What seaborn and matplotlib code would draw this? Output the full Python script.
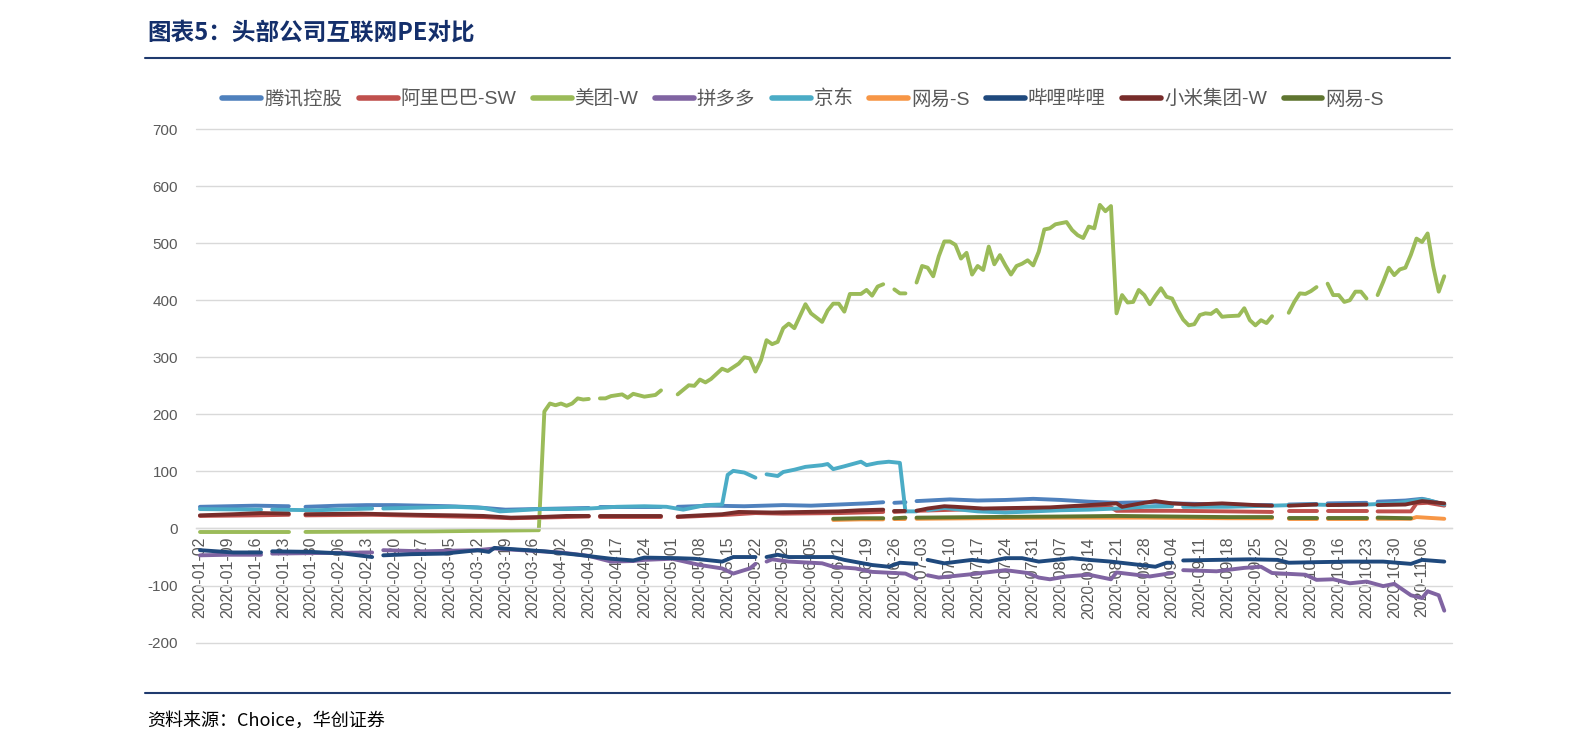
import pandas as pd
import matplotlib.pyplot as plt
from matplotlib.lines import Line2D
import seaborn as sns

# category axis: trading days (04-10 is not in the source table)
trade_days = pd.bdate_range('2020-01-02', '2020-11-12').drop(pd.Timestamp('2020-04-10'))

# None = no quote that day (market holiday) -> gap in the line
tencent_dates = ['01-02', '01-09', '01-16', '01-24', '01-27', '01-29', '02-06', '02-13', '02-20', '02-27',
                 '03-05', '03-12', '03-19', '03-26', '04-02', '04-09', '04-13', '04-14', '04-22', '04-29',
                 '04-30', '05-04', '05-12', '05-20', '05-29', '06-05', '06-12', '06-19', '06-24', '06-25',
                 '06-26', '06-30', '07-01', '07-02', '07-10', '07-17', '07-24', '07-31', '08-07', '08-14',
                 '08-21', '08-28', '09-04', '09-11', '09-18', '09-25', '09-30', '10-01', '10-05', '10-12',
                 '10-13', '10-14', '10-23', '10-26', '10-27', '11-03', '11-06', '11-09', '11-12']
tencent_pe = [38, 39, 40, 39, None, 38, 40, 41, 41, 40,
              39, 37, 33, 34, 35, 36, None, 37, 37, 37,
              None, 38, 40, 39, 41, 40, 42, 44, 46, None,
              45, 46, None, 48, 51, 49, 50, 52, 50, 47,
              45, 46, 44, 43, 42, 41, 41, None, 42, 43,
              None, 44, 45, None, 47, 49, 52, 50, 42]

alibaba_dates = ['01-02', '01-16', '01-24', '01-27', '01-29', '02-14', '02-28', '03-13', '03-20', '03-27',
                 '04-09', '04-13', '04-14', '04-29', '04-30', '05-04', '05-15', '05-22', '05-29', '06-12',
                 '06-24', '06-25', '06-26', '06-30', '07-01', '07-02', '07-17', '07-31', '08-14', '08-20',
                 '08-21', '09-04', '09-18', '09-30', '10-01', '10-05', '10-12', '10-13', '10-14', '10-23',
                 '10-26', '10-27', '11-04', '11-05', '11-09', '11-12']
alibaba_pe = [22, 23, 24, None, 23, 24, 22, 20, 18, 19,
              21, None, 21, 21, None, 20, 24, 27, 26, 27,
              29, None, 29, 30, None, 31, 34, 35, 36, 37,
              31, 31, 30, 29, None, 30, 30, None, 30, 30,
              None, 30, 30, 44, 45, 40]

meituan_dates = ['01-02', '01-24', '01-27', '01-29', '03-02', '03-27', '03-30', '03-31', '04-01', '04-02',
                 '04-03', '04-06', '04-07', '04-08', '04-09', '04-13', '04-14', '04-15', '04-16', '04-20',
                 '04-21', '04-22', '04-24', '04-28', '04-29', '04-30', '05-04', '05-06', '05-07', '05-08',
                 '05-11', '05-12', '05-14', '05-15', '05-19', '05-20', '05-21', '05-22', '05-25', '05-26',
                 '05-27', '05-28', '05-29', '06-01', '06-02', '06-04', '06-05', '06-09', '06-10', '06-11',
                 '06-12', '06-15', '06-16', '06-17', '06-18', '06-19', '06-22', '06-23', '06-24', '06-25',
                 '06-26', '06-29', '06-30', '07-01', '07-02', '07-03', '07-06', '07-07', '07-08', '07-09',
                 '07-10', '07-13', '07-14', '07-15', '07-16', '07-17', '07-20', '07-21', '07-22', '07-23',
                 '07-24', '07-27', '07-28', '07-29', '07-30', '07-31', '08-03', '08-04', '08-05', '08-06',
                 '08-10', '08-11', '08-12', '08-13', '08-14', '08-17', '08-18', '08-19', '08-20', '08-21',
                 '08-24', '08-25', '08-26', '08-27', '08-28', '08-31', '09-01', '09-02', '09-03', '09-04',
                 '09-07', '09-08', '09-09', '09-10', '09-11', '09-14', '09-15', '09-16', '09-17', '09-18',
                 '09-22', '09-23', '09-24', '09-25', '09-28', '09-29', '09-30', '10-01', '10-05', '10-06',
                 '10-07', '10-08', '10-09', '10-12', '10-13', '10-14', '10-15', '10-16', '10-19', '10-20',
                 '10-21', '10-22', '10-23', '10-26', '10-27', '10-28', '10-29', '10-30', '11-02', '11-03',
                 '11-04', '11-05', '11-06', '11-09', '11-10', '11-11', '11-12']
meituan_pe = [-6, -6, None, -6, -5, -3, 205, 219, 216, 219,
              215, 219, 228, 226, 227, None, 228, 228, 232, 235,
              229, 236, 231, 234, 242, None, 235, 251, 250, 261,
              256, 262, 280, 276, 289, 300, 298, 275, 295, 330,
              323, 327, 351, 359, 351, 393, 377, 362, 382, 394,
              394, 380, 411, 411, 411, 418, 408, 424, 428, None,
              419, 412, 412, None, 431, 460, 457, 442, 477, 503,
              503, 497, 473, 483, 445, 460, 453, 494, 463, 479,
              461, 445, 460, 464, 470, 461, 485, 524, 526, 533,
              537, 523, 514, 509, 529, 526, 567, 556, 565, 377,
              409, 396, 397, 418, 409, 393, 408, 421, 406, 403,
              383, 366, 356, 358, 374, 377, 376, 383, 371, 372,
              373, 386, 365, 356, 365, 360, 372, None, 378, 397,
              412, 411, 416, 423, None, 429, 409, 409, 397, 400,
              415, 415, 403, None, 409, 432, 457, 444, 454, 457,
              480, 508, 502, 517, 460, 415, 442]

pdd_dates = ['01-02', '01-09', '01-17', '01-20', '01-21', '01-31', '02-14', '02-17', '02-18', '02-27',
             '03-12', '03-17', '03-20', '04-02', '04-09', '04-16', '04-22', '04-24', '05-01', '05-08',
             '05-14', '05-18', '05-21', '05-22', '05-25', '05-26', '05-27', '06-01', '06-09', '06-11',
             '06-17', '06-22', '06-30', '07-02', '07-03', '07-06', '07-08', '07-16', '07-24', '07-30',
             '08-03', '08-05', '08-10', '08-14', '08-20', '08-21', '08-31', '09-04', '09-07', '09-08',
             '09-16', '09-23', '09-28', '09-30', '10-08', '10-12', '10-15', '10-20', '10-23', '10-28',
             '10-30', '11-04', '11-06', '11-09', '11-11', '11-12']
pdd_pe = [-47, -46, -46, None, -44, -43, -42, None, -38, -40,
          -38, -35, -37, -42, -48, -58, -57, -55, -53, -64,
          -70, -79, -70, -62, None, -58, -54, -58, -61, -67,
          -70, -76, -79, -88, None, -82, -86, -80, -73, -78,
          -86, -89, -84, -81, -89, -77, -84, -78, None, -73,
          -75, -69, -67, -78, -81, -90, -89, -96, -93, -101,
          -97, -117, -122, -110, -117, -144]

jd_dates = ['01-02', '01-17', '01-20', '01-21', '01-31', '02-14', '02-17', '02-18', '02-28', '03-06',
            '03-13', '03-18', '03-20', '03-27', '04-03', '04-09', '04-17', '04-24', '04-30', '05-05',
            '05-07', '05-11', '05-14', '05-15', '05-18', '05-20', '05-22', '05-25', '05-26', '05-28',
            '05-29', '06-02', '06-04', '06-05', '06-09', '06-10', '06-11', '06-15', '06-18', '06-19',
            '06-23', '06-25', '06-29', '06-30', '07-02', '07-03', '07-06', '07-09', '07-17', '07-24',
            '07-31', '08-07', '08-14', '08-21', '08-28', '09-04', '09-07', '09-08', '09-18', '09-30',
            '10-09', '10-16', '10-23', '10-30', '11-04', '11-06', '11-09', '11-12']
jd_pe = [34, 33, None, 33, 32, 35, None, 35, 37, 38,
         36, 30, 31, 34, 34, 35, 38, 39, 38, 33,
         37, 41, 42, 94, 101, 98, 89, None, 95, 92,
         99, 103, 108, 109, 111, 113, 104, 109, 117, 111,
         115, 117, 115, 30, 30, None, 32, 36, 30, 28,
         30, 32, 33, 35, 38, 39, None, 38, 38, 40,
         42, 41, 42, 44, 48, 51, 50, 42]

netease_dates = ['06-11', '06-18', '06-24', '06-25', '06-26', '06-30', '07-01', '07-02', '07-17', '08-07',
                 '08-28', '09-18', '09-30', '10-01', '10-05', '10-12', '10-13', '10-14', '10-23', '10-26',
                 '10-27', '11-04', '11-05', '11-12']
netease_pe = [15, 16, 16, None, 16, 16, None, 17, 18, 19,
              19, 18, 18, None, 17, 17, None, 17, 17, None,
              17, 17, 20, 17]

bili_dates = ['01-02', '01-10', '01-17', '01-20', '01-21', '01-30', '02-07', '02-14', '02-17', '02-18',
              '02-25', '03-04', '03-12', '03-16', '03-17', '03-20', '03-30', '04-07', '04-16', '04-22',
              '04-24', '05-04', '05-07', '05-14', '05-18', '05-22', '05-25', '05-26', '05-28', '06-01',
              '06-11', '06-15', '06-22', '06-25', '06-29', '07-02', '07-03', '07-06', '07-09', '07-16',
              '07-21', '07-24', '07-29', '08-03', '08-11', '08-14', '08-20', '09-01', '09-03', '09-04',
              '09-07', '09-08', '09-16', '09-24', '10-01', '10-05', '10-12', '10-20', '10-28', '11-04',
              '11-06', '11-12']
bili_pe = [-38, -42, -42, None, -40, -41, -44, -50, None, -47,
           -45, -44, -38, -41, -34, -36, -40, -46, -53, -56,
           -51, -52, -53, -58, -50, -50, None, -50, -46, -50,
           -50, -55, -64, -67, -60, -62, None, -55, -61, -55,
           -58, -52, -52, -58, -52, -55, -58, -67, -60, -60,
           None, -56, -55, -54, -55, -60, -59, -58, -58, -62,
           -55, -58]

xiaomi_dates = ['01-02', '01-10', '01-17', '01-24', '01-27', '01-29', '02-12', '02-26', '03-06', '03-13',
                '03-20', '03-27', '04-03', '04-09', '04-13', '04-14', '04-29', '04-30', '05-04', '05-08',
                '05-14', '05-19', '05-27', '06-04', '06-12', '06-18', '06-24', '06-25', '06-26', '06-30',
                '07-01', '07-02', '07-06', '07-09', '07-13', '07-20', '07-28', '08-05', '08-14', '08-21',
                '08-24', '08-28', '09-01', '09-04', '09-10', '09-17', '09-25', '09-30', '10-01', '10-05',
                '10-12', '10-13', '10-14', '10-23', '10-26', '10-27', '11-03', '11-06', '11-09', '11-12']
xiaomi_pe = [23, 25, 27, 26, None, 25, 26, 24, 23, 22,
             19, 20, 22, 22, None, 22, 22, None, 21, 23,
             25, 29, 28, 29, 30, 32, 33, None, 30, 30,
             None, 31, 35, 39, 38, 35, 36, 37, 41, 44,
             38, 45, 48, 44, 42, 44, 41, 40, None, 40,
             42, None, 41, 42, None, 41, 42, 48, 47, 44]

netease2_dates = ['06-11', '06-18', '06-24', '06-25', '06-26', '06-30', '07-01', '07-02', '07-17', '08-07',
                  '08-21', '09-04', '09-18', '09-30', '10-01', '10-05', '10-12', '10-13', '10-14', '10-23',
                  '10-26', '10-27', '11-04']
netease2_pe = [17, 18, 18, None, 18, 19, None, 19, 20, 21,
               22, 21, 20, 20, None, 19, 19, None, 19, 19,
               None, 19, 18]

series = [
    ('tencent', '腾讯控股', '#4F81BD', tencent_dates, tencent_pe),
    ('alibaba', '阿里巴巴-SW', '#C0504D', alibaba_dates, alibaba_pe),
    ('meituan', '美团-W', '#9BBB59', meituan_dates, meituan_pe),
    ('pdd', '拼多多', '#8064A2', pdd_dates, pdd_pe),
    ('jd', '京东', '#4BACC6', jd_dates, jd_pe),
    ('netease', '网易-S', '#F79646', netease_dates, netease_pe),
    ('bili', '哔哩哔哩', '#1F497D', bili_dates, bili_pe),
    ('xiaomi', '小米集团-W', '#772C2A', xiaomi_dates, xiaomi_pe),
    ('netease2', '网易-S', '#5F7530', netease2_dates, netease2_pe),
]

rows = []
for key, label, color, dates, values in series:
    idx = trade_days.get_indexer(pd.to_datetime(['2020-' + d for d in dates]), method='nearest')
    seg = 0
    for i, v in zip(idx, values):
        if v is None:
            seg += 1
            continue
        rows.append({'pos': i, 'pe': v, 'name': key, 'seg': f'{key}_{seg}'})
df = pd.DataFrame(rows)

sns.set_theme(style='white')
plt.rcParams['font.family'] = ['Liberation Sans', 'Noto Sans CJK SC']
plt.rcParams['axes.unicode_minus'] = False

fig = plt.figure(figsize=(15.84, 7.51), dpi=100)
ax = fig.add_axes([0.1237, 0.1443, 0.793, 0.6839])

sns.lineplot(data=df, x='pos', y='pe', hue='name', units='seg', estimator=None,
             hue_order=[s[0] for s in series], palette={s[0]: s[2] for s in series},
             linewidth=2.8, legend=False, ax=ax,
             solid_capstyle='round', solid_joinstyle='round')

grey = '#D9D9D9'
ax.set_xlim(-0.72, 225.4)
ax.set_ylim(-200, 700)
ax.set_yticks(range(-200, 701, 100))
ax.set_xticks(range(0, len(trade_days), 5))
ax.set_xticklabels([trade_days[i].strftime('%Y-%m-%d') for i in range(0, len(trade_days), 5)])
ax.set_xticks(range(len(trade_days)), minor=True)
ax.tick_params(axis='x', which='both', direction='out', length=4, width=1, color=grey,
               labelsize=11.5, labelcolor='#595959', labelrotation=90, pad=2)
ax.tick_params(axis='y', length=0, pad=13, labelsize=11, labelcolor='#595959')
ax.yaxis.grid(True, color=grey, lw=1)
ax.xaxis.grid(False)
ax.set_axisbelow(True)
for gl in ax.get_ygridlines():
    gl.set_clip_on(False)
for side in ['left', 'right', 'top']:
    ax.spines[side].set_visible(False)
ax.spines['bottom'].set_position(('data', 0))
ax.spines['bottom'].set_color(grey)
ax.spines['bottom'].set_linewidth(1)
ax.set_xlabel('')
ax.set_ylabel('')

handles = [Line2D([], [], color=s[2], lw=4, solid_capstyle='round') for s in series]
fig.legend(handles, [s[1] for s in series], loc='center', bbox_to_anchor=(0.507, 0.868),
           ncol=9, frameon=False, fontsize=14, handlelength=2.0, handletextpad=0.15,
           columnspacing=0.85, labelcolor='#595959')

navy = '#1F3A6E'
fig.text(147 / 1584, 0.956, '图表5：头部公司互联网PE对比', fontsize=17, fontweight='bold',
         color='#142F6B', ha='left', va='center', family=['Noto Sans CJK SC'])
fig.add_artist(Line2D([0.0915, 0.9155], [0.9228, 0.9228], color=navy, lw=1.5, transform=fig.transFigure))
fig.add_artist(Line2D([0.0915, 0.9155], [0.0773, 0.0773], color=navy, lw=1.5, transform=fig.transFigure))
fig.text(147 / 1584, 0.040, '资料来源：Choice，华创证券', fontsize=13, style='italic',
         color='black', ha='left', va='center', family=['Noto Sans CJK SC'])

fig.savefig('out.png', dpi=100)
